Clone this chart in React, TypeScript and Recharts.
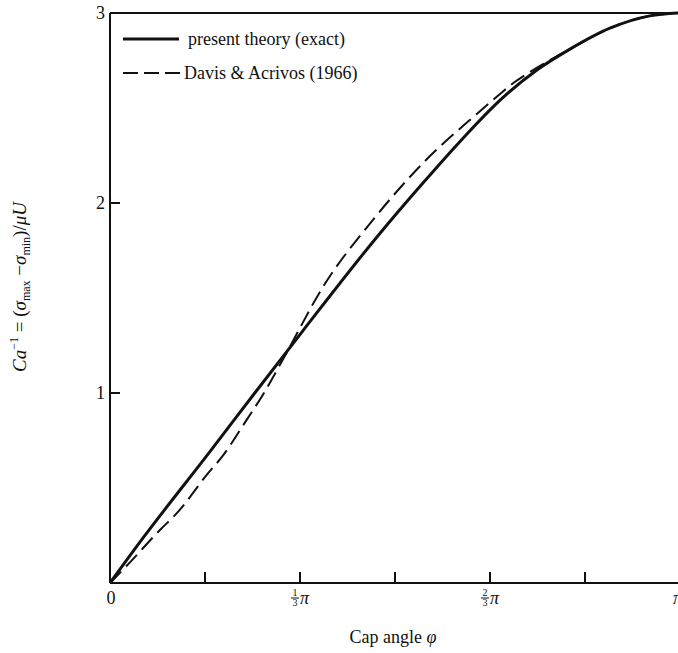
import { Label, Legend, Line, LineChart, ReferenceLine, XAxis, YAxis } from 'recharts'

// cap angle as a fraction of pi
const phiTicks = [0, 1 / 6, 1 / 3, 1 / 2, 2 / 3, 5 / 6, 1]
const caTicks = [0, 1, 2, 3]

// present theory (exact) - solid
const theoryPhi = [0, 0.058, 0.175, 0.254, 0.339, 0.468, 0.549, 0.619, 0.684, 0.749, 0.807, 0.877, 0.947, 1]
const theoryCa = [0, 0.237, 0.69, 1.0, 1.33, 1.82, 2.105, 2.34, 2.54, 2.7, 2.81, 2.92, 2.985, 3]

// Davis & Acrivos (1966) - dashed
const davisPhi = [0, 0.026, 0.088, 0.118, 0.17, 0.198, 0.24, 0.268, 0.304, 0.374, 0.461, 0.549, 0.644, 0.679, 0.707, 0.737, 0.807, 0.877, 0.947, 1]
const davisCa = [0, 0.08, 0.28, 0.37, 0.57, 0.67, 0.86, 0.99, 1.18, 1.56, 1.91, 2.21, 2.47, 2.56, 2.63, 2.69, 2.81, 2.92, 2.985, 3]

const theoryData = theoryPhi.map((phi, i) => ({ phi, ca: theoryCa[i] }))
const davisData = davisPhi.map((phi, i) => ({ phi, ca: davisCa[i] }))

const FONT = 'Liberation Serif, DejaVu Serif, serif'
const INK = '#111'

function PhiTick({ x, y, payload }: any) {
  const v = payload.value
  let label = null
  if (v === 0) {
    label = (
      <text x={x + 1} y={y + 21} textAnchor="middle" fontSize={18} fontFamily={FONT} fill={INK}>
        0
      </text>
    )
  } else if (Math.abs(v - 1 / 3) < 1e-6 || Math.abs(v - 2 / 3) < 1e-6) {
    const num = Math.abs(v - 1 / 3) < 1e-6 ? '1' : '2'
    label = (
      <g>
        <text x={x - 5} y={y + 13} textAnchor="middle" fontSize={10} fontFamily={FONT} fill={INK}>
          {num}
        </text>
        <line x1={x - 9} x2={x - 1} y1={y + 15} y2={y + 15} stroke={INK} strokeWidth={1} />
        <text x={x - 5} y={y + 23} textAnchor="middle" fontSize={10} fontFamily={FONT} fill={INK}>
          3
        </text>
        <text x={x} y={y + 21} fontSize={18} fontStyle="italic" fontFamily={FONT} fill={INK}>
          π
        </text>
      </g>
    )
  } else if (v === 1) {
    label = (
      <text x={x - 7} y={y + 21} fontSize={18} fontStyle="italic" fontFamily={FONT} fill={INK}>
        π
      </text>
    )
  }
  return (
    <g>
      <line x1={x} x2={x} y1={y} y2={y - 11} stroke={INK} strokeWidth={2} />
      {label}
    </g>
  )
}

function CaTick({ x, y, payload }: any) {
  const v = payload.value
  return (
    <g>
      {v > 0 && v < 3 && <line x1={x} x2={x + 10} y1={y} y2={y} stroke={INK} strokeWidth={2} />}
      {v > 0 && (
        <text x={x - 5} y={y} dy="0.33em" textAnchor="end" fontSize={18} fontFamily={FONT} fill={INK}>
          {v}
        </text>
      )}
    </g>
  )
}

function YTitle({ viewBox }: any) {
  const cx = viewBox.x + 26
  const cy = viewBox.y + viewBox.height / 2 - 11
  return (
    <text
      x={cx}
      y={cy}
      transform={`rotate(-90, ${cx}, ${cy})`}
      textAnchor="middle"
      fontSize={19}
      fontFamily={FONT}
      fill={INK}
    >
      <tspan fontStyle="italic">Ca</tspan>
      <tspan fontSize={12} dy={-8}>{'−1'}</tspan>
      <tspan dy={8}>{' = ('}</tspan>
      <tspan fontStyle="italic">σ</tspan>
      <tspan fontSize={12} dy={4}>max</tspan>
      <tspan dy={-4}>{' −'}</tspan>
      <tspan fontStyle="italic">σ</tspan>
      <tspan fontSize={12} dy={4}>min</tspan>
      <tspan dy={-4}>{')/'}</tspan>
      <tspan fontStyle="italic">μU</tspan>
    </text>
  )
}

function XTitle({ viewBox }: any) {
  return (
    <text
      x={viewBox.x + viewBox.width / 2 - 2}
      y={viewBox.y + 60}
      textAnchor="middle"
      fontSize={18}
      fontFamily={FONT}
      fill={INK}
    >
      Cap angle <tspan fontStyle="italic">φ</tspan>
    </text>
  )
}

function CurveLegend() {
  const row = { display: 'flex', alignItems: 'center', height: 34 }
  const txt = { fontFamily: FONT, fontSize: 18, color: INK }
  return (
    <div style={{ fontFamily: FONT }}>
      <div style={row}>
        <svg width={58} height={8}>
          <line x1={1} x2={57} y1={4} y2={4} stroke={INK} strokeWidth={3} />
        </svg>
        <span style={{ ...txt, marginLeft: 8 }}>present theory (exact)</span>
      </div>
      <div style={row}>
        <svg width={60} height={8}>
          <line x1={1} x2={59} y1={4} y2={4} stroke={INK} strokeWidth={2} strokeDasharray="15 6" />
        </svg>
        <span style={{ ...txt, marginLeft: 2 }}>Davis &amp; Acrivos (1966)</span>
      </div>
    </div>
  )
}

export default function App() {
  return (
    <div style={{ position: 'absolute', left: 0, top: 0, width: 678, height: 653, overflow: 'hidden', background: '#fff' }}>
      <LineChart width={682} height={653} margin={{ top: 13, right: 2, left: 0, bottom: 0 }}>
        <XAxis
          type="number"
          dataKey="phi"
          domain={[0, 1]}
          ticks={phiTicks}
          interval={0}
          tickSize={0}
          tickMargin={0}
          tickLine={false}
          tick={<PhiTick />}
          axisLine={{ stroke: INK, strokeWidth: 2 }}
          height={70}
        >
          <Label content={<XTitle />} />
        </XAxis>
        <YAxis
          type="number"
          dataKey="ca"
          domain={[0, 3]}
          ticks={caTicks}
          interval={0}
          tickSize={0}
          tickMargin={0}
          tickLine={false}
          tick={<CaTick />}
          axisLine={{ stroke: INK, strokeWidth: 2 }}
          width={110}
        >
          <Label content={<YTitle />} />
        </YAxis>
        <ReferenceLine y={3} stroke={INK} strokeWidth={2} />
        <Legend
          layout="horizontal"
          align="center"
          verticalAlign="middle"
          wrapperStyle={{ top: 22, left: 122, width: 300 }}
          content={<CurveLegend />}
        />
        <Line
          data={davisData}
          dataKey="ca"
          type="monotone"
          stroke={INK}
          strokeWidth={2}
          strokeDasharray="16 7"
          dot={false}
          isAnimationActive={false}
        />
        <Line
          data={theoryData}
          dataKey="ca"
          type="monotone"
          stroke={INK}
          strokeWidth={3}
          dot={false}
          isAnimationActive={false}
        />
      </LineChart>
    </div>
  )
}
